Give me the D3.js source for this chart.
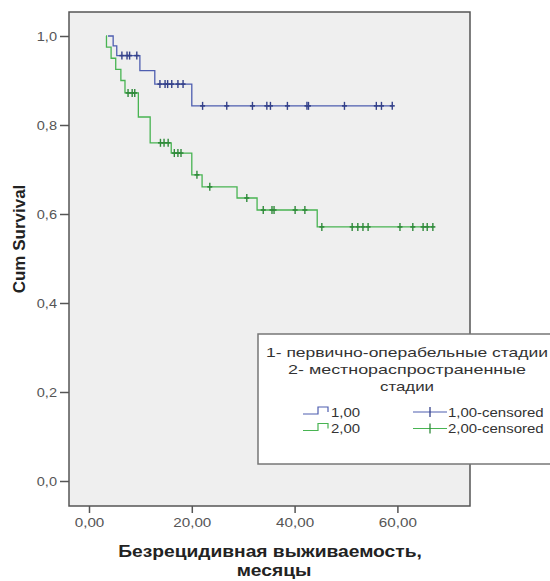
<!DOCTYPE html>
<html>
<head>
<meta charset="utf-8">
<script src="https://cdn.jsdelivr.net/npm/d3@7"></script>
<style>
  body { margin: 0; background: #ffffff; }
  text { font-family: "Liberation Sans", Arial, sans-serif; }
</style>
</head>
<body>
<svg id="chart" width="550" height="581"></svg>
<script>
// Axis ticks
const xTicks = [0, 20, 40, 60];
const yTicks = [0, 0.2, 0.4, 0.6, 0.8, 1.0];

// Group 1 (первично-операбельные): step start times and survival after each step
const group1Times = [3.7, 4.7, 5.4, 9.9, 12.8, 20.0];
const group1Surv  = [1.0, 0.978, 0.956, 0.922, 0.892, 0.843];
const group1End = 59.0;
const group1Censored = [6.4, 7.4, 7.9, 9.3, 13.8, 14.8, 15.3, 16.1, 17.3, 18.3,
                        22.1, 26.8, 31.8, 34.6, 35.3, 38.6, 42.4, 42.7, 49.7, 55.9, 56.9, 59.0];

// Group 2 (местнораспространенные)
const group2Times = [3.3, 3.4, 4.3, 5.2, 6.2, 7.0, 9.6, 11.9, 16.0, 20.0, 22.0, 28.8, 32.7, 44.4];
const group2Surv  = [1.0, 0.975, 0.95, 0.925, 0.90, 0.872, 0.818, 0.760, 0.737, 0.688, 0.661, 0.636, 0.609, 0.571];
const group2End = 66.9;
const group2Censored = [7.6, 8.4, 8.9, 13.9, 14.6, 15.4, 16.6, 17.3, 17.9, 21.0, 23.5, 30.7,
                        33.9, 35.6, 36.0, 40.1, 42.0, 45.3, 51.2, 52.3, 53.3, 54.3, 60.5, 63.0, 65.0, 65.8, 66.9];

const seriesColors = ["#4e5eb0", "#48b452"];
const censorColors = ["#34418a", "#2f8a3a"];
const legendTitle = ["1- первично-операбельные стадии", "2- местнораспространенные", "стадии"];
const legendTitleWidths = [282, 238, 54];
const legendNames = ["1,00", "2,00"];
const legendCensored = ["1,00-censored", "2,00-censored"];
const xTitle = ["Безрецидивная выживаемость,", "месяцы"];
const yTitle = "Cum Survival";

const svg = d3.select("#chart");
const frame = { left: 69, right: 470, top: 12, bottom: 506 };

const x = d3.scaleLinear().domain([0, 60]).range([89, 397.4]);
const y = d3.scaleLinear().domain([0, 1]).range([481, 36]);

// widen glyphs horizontally by a factor
function stretch(sel, k) {
  sel.each(function () {
    const w = this.getComputedTextLength();
    d3.select(this).attr("textLength", w * k).attr("lengthAdjust", "spacingAndGlyphs");
  });
}

// plot background
svg.append("rect")
  .attr("x", frame.left).attr("y", frame.top)
  .attr("width", frame.right - frame.left).attr("height", frame.bottom - frame.top)
  .attr("fill", "#efefef").attr("stroke", "#555").attr("stroke-width", 1.5);

// axes
const yAxis = svg.append("g").attr("transform", `translate(${frame.left},0)`)
  .call(d3.axisLeft(y).tickValues(yTicks).tickSize(9).tickPadding(3)
    .tickFormat(d => d3.format(".1f")(d).replace(".", ",")));
const xAxis = svg.append("g").attr("transform", `translate(0,${frame.bottom})`)
  .call(d3.axisBottom(x).tickValues(xTicks).tickSize(7).tickPadding(5)
    .tickFormat(d => d3.format(".2f")(d).replace(".", ",")));
[yAxis, xAxis].forEach(g => {
  g.select(".domain").remove();
  g.selectAll(".tick line").attr("stroke", "#555").attr("stroke-width", 1.5);
  g.selectAll(".tick text").attr("fill", "#555").attr("font-size", 13)
    .attr("font-family", "Liberation Sans, Arial, sans-serif");
});
stretch(xAxis.selectAll(".tick text"), 1.17);
stretch(yAxis.selectAll(".tick text"), 1.12);

// survival curves
function stepPoints(times, surv, end) {
  const pts = times.map((t, i) => [t, surv[i]]);
  pts.push([end, surv[surv.length - 1]]);
  return pts;
}
function survAt(times, surv, t) {
  let s = surv[0];
  for (let i = 0; i < times.length; i++) if (times[i] <= t) s = surv[i];
  return s;
}
const line = d3.line().x(d => x(d[0])).y(d => y(d[1])).curve(d3.curveStepAfter);

const groups = [
  { times: group1Times, surv: group1Surv, end: group1End, cens: group1Censored },
  { times: group2Times, surv: group2Surv, end: group2End, cens: group2Censored }
];

groups.forEach((g, i) => {
  svg.append("path")
    .attr("d", line(stepPoints(g.times, g.surv, g.end)))
    .attr("fill", "none").attr("stroke", seriesColors[i]).attr("stroke-width", 1.3);
  const marks = svg.append("g");
  g.cens.forEach(t => {
    const cx = x(t), cy = y(survAt(g.times, g.surv, t));
    marks.append("line").attr("x1", cx).attr("x2", cx).attr("y1", cy - 4).attr("y2", cy + 4)
      .attr("stroke", censorColors[i]).attr("stroke-width", 1.4);
    marks.append("line").attr("x1", cx - 2.5).attr("x2", cx + 2.5).attr("y1", cy).attr("y2", cy)
      .attr("stroke", censorColors[i]).attr("stroke-width", 1.6);
  });
});

// axis titles
svg.append("text")
  .attr("transform", "translate(25,239) rotate(-90)")
  .attr("text-anchor", "middle").attr("font-size", 17).attr("font-weight", "bold")
  .attr("fill", "#222").text(yTitle);

const xt = svg.selectAll(".xtitle").data(xTitle).join("text")
  .attr("x", (d, i) => i === 0 ? 270 : 274).attr("y", (d, i) => i === 0 ? 557 : 576)
  .attr("text-anchor", "middle").attr("font-size", 16).attr("font-weight", "bold")
  .attr("fill", "#222").text(d => d);
stretch(xt, 1.2);

// legend
const lg = svg.append("g");
lg.append("rect").attr("x", 258).attr("y", 334).attr("width", 300).attr("height", 130)
  .attr("fill", "#ffffff").attr("stroke", "#777").attr("stroke-width", 1.5);
lg.selectAll(".ltitle").data(legendTitle).join("text")
  .attr("x", 407).attr("y", (d, i) => 357 + i * 17)
  .attr("text-anchor", "middle").attr("font-size", 13).attr("fill", "#333")
  .attr("textLength", (d, i) => legendTitleWidths[i]).attr("lengthAdjust", "spacingAndGlyphs")
  .text(d => d);

[0, 1].forEach(i => {
  const cy = 412 + i * 16.5;
  lg.append("path")
    .attr("d", `M303,${cy + 2}H318V${cy - 5}H328V${cy}`)
    .attr("fill", "none").attr("stroke", seriesColors[i]).attr("stroke-width", 1.2);
  const t1 = lg.append("text").attr("x", 331).attr("y", cy + 4.5)
    .attr("font-size", 13).attr("fill", "#333").text(legendNames[i]);
  lg.append("line").attr("x1", 413).attr("x2", 447).attr("y1", cy).attr("y2", cy)
    .attr("stroke", seriesColors[i]).attr("stroke-width", 1.2);
  lg.append("line").attr("x1", 430).attr("x2", 430).attr("y1", cy - 5).attr("y2", cy + 5)
    .attr("stroke", censorColors[i]).attr("stroke-width", 1.3);
  const t2 = lg.append("text").attr("x", 448).attr("y", cy + 4.5)
    .attr("font-size", 13).attr("fill", "#333").text(legendCensored[i]);
  stretch(t1, 1.15);
  stretch(t2, 1.15);
});
</script>
</body>
</html>
